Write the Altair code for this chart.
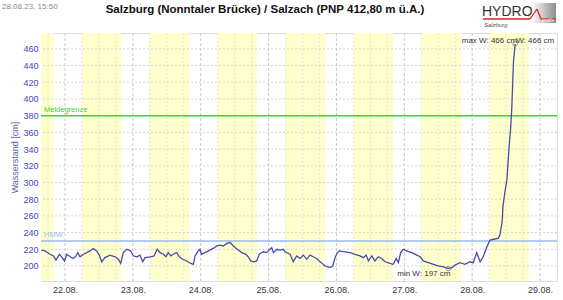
import altair as alt
import pandas as pd

# ---- data (hours since 22.08.2023 00:00, water level in cm) ----
hours = [-8.4, -7.1, -5.3, -4.1, -3.2, -2.0, -1.2, -0.2, 0.6, 1.8, 2.9, 3.9, 4.5, 5.3, 6.5, 7.7,
         8.8, 10.0, 11.2, 12.1, 13.0, 14.1, 15.9, 17.7, 18.9, 19.7, 20.6, 21.8, 23.2, 24.2, 25.4,
         26.5, 27.5, 28.3, 30.1, 31.5, 32.6, 33.6, 34.8, 35.7, 36.5, 37.4, 38.3, 39.5, 40.4, 41.6,
         43.0, 44.5, 45.4, 46.0, 47.1, 47.7, 48.3, 49.5, 50.7, 52.4, 53.7, 54.8, 56.0, 57.2, 58.4,
         59.5, 60.9, 62.5, 64.0, 64.8, 65.7, 66.6, 67.8, 68.7, 70.1, 71.3, 72.5, 73.1, 73.7, 74.9,
         76.0, 77.2, 77.8, 79.6, 80.7, 81.9, 83.1, 84.3, 85.5, 86.6, 87.8, 89.0, 90.2, 92.0, 93.7,
         94.7, 95.5, 96.3, 97.0, 99.0, 100.8, 102.6, 104.3, 105.5, 106.5, 107.3, 108.5, 109.6,
         110.8, 112.0, 113.2, 114.9, 116.1, 117.1, 117.9, 118.7, 119.6, 120.8, 122.6, 124.4, 125.6,
         126.7, 128.5, 130.3, 132.0, 133.8, 135.6, 136.8, 137.9, 139.7, 141.5, 143.2, 144.4, 145.6,
         146.8, 147.9, 149.1, 150.3, 151.5, 153.2, 153.8, 154.6, 154.9, 155.6, 156.3, 157.0, 157.6,
         158.0, 158.6, 159.2]
levels = [219, 218, 214, 212, 207, 214, 211, 206, 214, 211, 209, 212, 216, 211, 214, 216,
          218, 221, 218, 213, 205, 210, 213, 211, 208, 203, 216, 220, 218, 212, 211,
          213, 205, 210, 211, 212, 220, 216, 214, 211, 216, 212, 214, 216, 211, 208,
          206, 203, 202, 212, 218, 220, 214, 216, 218, 221, 224, 225, 224, 227, 228,
          224, 220, 216, 214, 211, 206, 205, 206, 214, 217, 216, 220, 222, 216, 220,
          219, 220, 217, 214, 205, 212, 209, 213, 208, 213, 211, 209, 205, 200, 198,
          200, 210, 216, 218, 217, 216, 214, 212, 210, 213, 206, 212, 206,
          211, 209, 205, 203, 202, 209, 204, 216, 220, 218, 216, 213, 211,
          206, 204, 202, 200, 199, 197, 198, 201, 204, 202, 205, 204, 216,
          205, 211, 222, 231, 232, 233, 237, 253, 272, 289, 304, 340, 365,
          388, 444, 466]

band_days = [21, 22, 23, 24, 25, 26, 27, 28]   # daylight bands 06:00-20:00
band_from_h, band_to_h = 6, 20
label_days = [22, 23, 24, 25, 26, 27, 28, 29]
y_grid = [200, 220, 240, 260, 280, 300, 320, 340, 360, 380, 400, 420, 440, 460]
y_lo, y_hi = 182, 479
meldegrenze = 380
hmw = 230

base = pd.Timestamp("2023-08-22 00:00")


def ts(h):
    return (base + pd.Timedelta(hours=h)).strftime("%Y-%m-%dT%H:%M:%S")


def dt(h):
    t = base + pd.Timedelta(hours=h)
    return alt.DateTime(year=t.year, month=t.month, date=t.day, hours=t.hour, minutes=t.minute)


df = pd.DataFrame({"t": [ts(h) for h in hours], "w": levels})
bands = pd.DataFrame({
    "t": [f"2023-08-{d:02d}T{band_from_h:02d}:00:00" for d in band_days],
    "e": [f"2023-08-{d:02d}T{band_to_h:02d}:00:00" for d in band_days],
    "w": [y_lo] * len(band_days),
    "w2": [y_hi] * len(band_days),
})
major = pd.DataFrame({"t": [f"2023-08-{d:02d}T00:00:00" for d in label_days]})
minor = pd.DataFrame({"t": [ts(h) for h in range(-6, 175, 6) if h % 24 != 0]})
hgrid = pd.DataFrame({"w": y_grid})

imax = levels.index(max(levels))
imin = levels.index(min(levels))
df_max = df.iloc[[imax]]
df_min = df.iloc[[imin]]

xscale = alt.Scale(domain=[dt(-8.5), dt(174)])
yscale = alt.Scale(domain=[y_lo, y_hi], nice=False, zero=False)
FONT = "Liberation Sans"

xaxis = alt.Axis(values=[dt(24 * k) for k in range(8)], format="%d.%m.", title=None,
                 grid=False, ticks=False, domain=False, labelColor="#333333",
                 labelFontSize=9, labelPadding=4, labelFont=FONT, labelOverlap=False)
yaxis = alt.Axis(values=y_grid, title="Wasserstand [cm]", grid=False, ticks=False, domain=False,
                 labelColor="#4646c4", labelFontSize=9, labelPadding=3, labelFont=FONT,
                 labelOverlap=False,
                 titleColor="#6464b0", titleFontSize=9, titleFontWeight="normal", titleFont=FONT,
                 titlePadding=3)

X = alt.X("t:T", scale=xscale, axis=xaxis)
Y = alt.Y("w:Q", scale=yscale, axis=yaxis)

band_layer = alt.Chart(bands).mark_rect(color="#ffffcc", clip=True).encode(
    x=X, x2="e:T", y=Y, y2="w2:Q",
)

minor_layer = alt.Chart(minor).mark_rule(color="#e4e4e4", strokeDash=[2, 2], strokeWidth=1).encode(x=X)
hgrid_layer = alt.Chart(hgrid).mark_rule(color="#d6d6d6", strokeDash=[2, 2], strokeWidth=1).encode(y=Y)
major_layer = alt.Chart(major).mark_rule(color="#c8c8c8", strokeDash=[3, 2], strokeWidth=1, clip=True).encode(x=X)

thr = pd.DataFrame({"w": [meldegrenze, hmw], "label": ["Meldegrenze", "HMW"],
                    "c": ["#44cc44", "#99bbee"]})
thr_rule = alt.Chart(thr).mark_rule(strokeWidth=1.5).encode(
    y=Y, color=alt.Color("c:N", scale=None),
)
thr_text = alt.Chart(thr).mark_text(align="left", baseline="bottom", dy=-2, fontSize=7.5, font=FONT).encode(
    x=alt.value(3), y=Y, text="label:N", color=alt.Color("c:N", scale=None),
)

line = alt.Chart(df).mark_line(color="#4a4aa8", strokeWidth=1.3).encode(x=X, y=Y)

ext = pd.concat([df_max, df_min])
pts = alt.Chart(ext).mark_point(shape="circle", size=22, filled=False, color="#777777", strokeWidth=1).encode(
    x=X, y=Y)
max_txt1 = alt.Chart(df_max).mark_text(align="right", baseline="middle", dx=2, dy=-3, fontSize=8,
                                       font=FONT, color="#333333").encode(
    x=X, y=Y, text=alt.Text("label:N"),
).transform_calculate(label="'max W: ' + datum.w + ' cm'")
max_txt2 = alt.Chart(df_max).mark_text(align="left", baseline="middle", dx=1, dy=-3, fontSize=8,
                                       font=FONT, color="#333333").encode(
    x=X, y=Y, text=alt.Text("label:N"),
).transform_calculate(label="'W: ' + datum.w + ' cm'")
min_txt = alt.Chart(df_min).mark_text(align="right", baseline="middle", dx=2, dy=6, fontSize=8,
                                      font=FONT, color="#333333").encode(
    x=X, y=Y, text=alt.Text("label:N"),
).transform_calculate(label="'min W: ' + datum.w + ' cm'")

one = pd.DataFrame({"a": [0]})
title = alt.Chart(one).mark_text(text="Salzburg (Nonntaler Brücke) / Salzach (PNP 412,80 m ü.A.)",
                                 fontSize=11.5, fontWeight="bold", font=FONT, color="#111111",
                                 align="center", baseline="middle").encode(
    x=alt.value(224), y=alt.value(-23))
stamp = alt.Chart(one).mark_text(text="28.08.23, 15:50", fontSize=8, font=FONT, color="#8a8a8a",
                                 align="left", baseline="middle").encode(
    x=alt.value(-39), y=alt.value(-26))

# logo
logo_box = alt.Chart(one).mark_rect(
    fill=alt.Gradient(gradient="linear", stops=[alt.GradientStop(color="#f4f4f4", offset=0),
                                                alt.GradientStop(color="#8c8c8c", offset=1)],
                      x1=0, x2=1, y1=0, y2=0)).encode(
    x=alt.value(493), x2=alt.value(515), y=alt.value(-30), y2=alt.value(-10))
logo_txt = alt.Chart(one).mark_text(text="HYDRO", fontSize=14, font=FONT, color="#333333",
                                    align="left", baseline="alphabetic").encode(
    x=alt.value(441), y=alt.value(-17))
logo_sub = alt.Chart(one).mark_text(text="Salzburg", fontSize=6, font=FONT, fontStyle="italic",
                                    color="#555555", align="left", baseline="middle").encode(
    x=alt.value(443), y=alt.value(-8))
logo_gr = alt.Chart(one).mark_text(text="grafie", fontSize=5, font=FONT, fontStyle="italic",
                                   color="#eeeeee", align="center", baseline="middle").encode(
    x=alt.value(507), y=alt.value(-13))
segs = pd.DataFrame({"x": [442, 489, 496], "x2": [489, 496, 500], "y": [-14, -14, -24], "y2": [-14, -24, -14]})
logo_red = alt.Chart(segs).mark_rule(color="#dd2222", strokeWidth=1.3).encode(
    x=alt.X("x:Q", scale=None), x2="x2:Q", y=alt.Y("y:Q", scale=None), y2="y2:Q")
logo_red2 = alt.Chart(one).mark_rule(color="#dd2222", strokeWidth=1.3).encode(
    x=alt.value(500), x2=alt.value(515), y=alt.value(-14))

chart = alt.layer(
    band_layer, minor_layer, hgrid_layer, major_layer, thr_rule, thr_text, line, pts,
    max_txt1, max_txt2, min_txt, title, stamp, logo_box, logo_red, logo_red2, logo_txt, logo_sub, logo_gr,
).properties(
    width=516, height=248,
    autosize=alt.AutoSizeParams(type="none"),
    padding={"left": 41, "top": 33, "right": 6, "bottom": 19},
).configure_view(stroke="#aaaaaa", strokeWidth=1).configure(background="white").configure_axisY(
    labelOverlap=False
)

chart.save("out.html", embed_options={"renderer": "svg", "actions": False})
